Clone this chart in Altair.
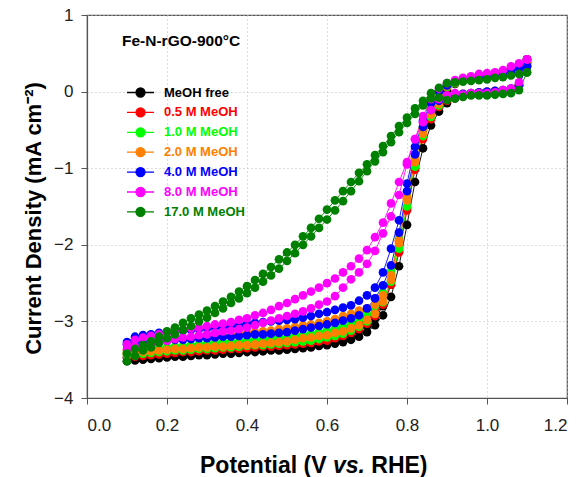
import altair as alt
import pandas as pd

# Potential grid (V vs. RHE), 0.10 ... 1.10 in 0.02 V steps
potential = [round(0.10 + 0.02 * i, 2) for i in range(51)]

series_names = ["MeOH free", "0.5 M MeOH", "1.0 M MeOH", "2.0 M MeOH",
                "4.0 M MeOH", "8.0 M MeOH", "17.0 M MeOH"]
series_colors = ["#000000", "#FF0000", "#00FF00", "#FF8000",
                 "#0000FF", "#FF00FF", "#008000"]

# current density (mA cm-2): "upper" and "lower" branches of each CV loop
free_up = [-3.47,-3.46,-3.45,-3.44,-3.43,-3.42,-3.41,-3.41,-3.40,-3.39,-3.39,-3.38,-3.37,-3.37,-3.36,-3.36,-3.35,-3.34,-3.34,-3.33,-3.32,-3.31,-3.30,-3.29,-3.28,-3.26,-3.24,-3.21,-3.18,-3.13,-3.06,-2.96,-2.80,-2.52,-2.08,-1.52,-1.00,-0.60,-0.30,-0.10,0.02,0.10,0.15,0.18,0.20,0.22,0.24,0.26,0.30,0.35,0.42]
free_lo = [-3.52,-3.51,-3.50,-3.49,-3.48,-3.47,-3.46,-3.46,-3.45,-3.44,-3.44,-3.43,-3.42,-3.42,-3.41,-3.40,-3.40,-3.39,-3.38,-3.38,-3.37,-3.36,-3.35,-3.34,-3.32,-3.31,-3.29,-3.27,-3.24,-3.20,-3.14,-3.05,-2.92,-2.68,-2.28,-1.74,-1.18,-0.74,-0.44,-0.26,-0.15,-0.09,-0.06,-0.04,-0.03,-0.02,-0.01,0.00,0.02,0.08,0.42]

m05_up = [-3.42,-3.40,-3.39,-3.38,-3.37,-3.36,-3.35,-3.34,-3.33,-3.32,-3.31,-3.31,-3.30,-3.29,-3.29,-3.28,-3.27,-3.26,-3.25,-3.24,-3.23,-3.22,-3.21,-3.20,-3.18,-3.16,-3.13,-3.10,-3.06,-3.00,-2.93,-2.83,-2.66,-2.38,-1.95,-1.40,-0.88,-0.50,-0.24,-0.06,0.05,0.11,0.15,0.18,0.20,0.21,0.23,0.25,0.29,0.33,0.38]
m05_lo = [-3.47,-3.46,-3.45,-3.44,-3.43,-3.42,-3.41,-3.40,-3.40,-3.39,-3.38,-3.38,-3.37,-3.36,-3.36,-3.35,-3.34,-3.33,-3.33,-3.32,-3.31,-3.30,-3.29,-3.28,-3.26,-3.25,-3.22,-3.19,-3.15,-3.10,-3.03,-2.93,-2.78,-2.52,-2.10,-1.55,-1.02,-0.62,-0.36,-0.20,-0.12,-0.07,-0.05,-0.03,-0.02,-0.01,0.00,0.01,0.03,0.08,0.38]

m10_up = [-3.40,-3.38,-3.37,-3.36,-3.35,-3.34,-3.33,-3.32,-3.31,-3.30,-3.29,-3.28,-3.27,-3.27,-3.26,-3.25,-3.24,-3.23,-3.22,-3.21,-3.20,-3.19,-3.18,-3.16,-3.14,-3.12,-3.09,-3.06,-3.02,-2.97,-2.90,-2.80,-2.63,-2.35,-1.92,-1.37,-0.85,-0.47,-0.22,-0.05,0.06,0.11,0.15,0.17,0.19,0.21,0.23,0.25,0.28,0.32,0.36]
m10_lo = [-3.44,-3.43,-3.42,-3.41,-3.40,-3.39,-3.38,-3.38,-3.37,-3.36,-3.36,-3.35,-3.34,-3.34,-3.33,-3.32,-3.31,-3.31,-3.30,-3.29,-3.28,-3.27,-3.26,-3.25,-3.23,-3.21,-3.19,-3.16,-3.12,-3.07,-3.00,-2.90,-2.75,-2.48,-2.05,-1.50,-0.98,-0.58,-0.33,-0.18,-0.10,-0.06,-0.04,-0.03,-0.02,-0.01,0.00,0.01,0.03,0.08,0.36]

m20_up = [-3.38,-3.33,-3.30,-3.28,-3.26,-3.25,-3.24,-3.23,-3.22,-3.21,-3.20,-3.19,-3.18,-3.17,-3.16,-3.15,-3.14,-3.13,-3.12,-3.10,-3.09,-3.07,-3.05,-3.04,-3.02,-3.00,-2.97,-2.93,-2.90,-2.86,-2.83,-2.78,-2.66,-2.40,-1.94,-1.38,-0.86,-0.48,-0.22,-0.04,0.07,0.12,0.16,0.18,0.20,0.22,0.24,0.26,0.29,0.33,0.37]
m20_lo = [-3.42,-3.41,-3.40,-3.39,-3.38,-3.37,-3.36,-3.36,-3.35,-3.34,-3.34,-3.33,-3.33,-3.32,-3.31,-3.31,-3.30,-3.29,-3.28,-3.27,-3.26,-3.24,-3.22,-3.21,-3.19,-3.18,-3.15,-3.13,-3.09,-3.05,-2.98,-2.90,-2.74,-2.46,-1.98,-1.42,-0.92,-0.55,-0.30,-0.16,-0.09,-0.05,-0.03,-0.02,-0.01,0.00,0.01,0.02,0.04,0.09,0.37]

m40_up = [-3.27,-3.20,-3.18,-3.17,-3.15,-3.14,-3.13,-3.12,-3.11,-3.10,-3.09,-3.08,-3.07,-3.06,-3.05,-3.03,-3.02,-3.01,-3.00,-2.99,-2.98,-2.97,-2.95,-2.93,-2.90,-2.88,-2.85,-2.82,-2.79,-2.73,-2.66,-2.56,-2.36,-2.05,-1.68,-1.20,-0.72,-0.38,-0.15,0.00,0.08,0.13,0.16,0.18,0.20,0.22,0.23,0.25,0.27,0.30,0.33]
m40_lo = [-3.30,-3.29,-3.28,-3.27,-3.26,-3.25,-3.24,-3.24,-3.23,-3.22,-3.22,-3.21,-3.20,-3.20,-3.19,-3.18,-3.17,-3.17,-3.16,-3.15,-3.14,-3.12,-3.10,-3.08,-3.06,-3.04,-3.02,-2.99,-2.96,-2.92,-2.83,-2.70,-2.53,-2.27,-1.84,-1.30,-0.82,-0.46,-0.24,-0.12,-0.07,-0.04,-0.03,-0.02,-0.01,0.00,0.01,0.02,0.04,0.09,0.33]

m80_up = [-3.30,-3.24,-3.21,-3.19,-3.17,-3.15,-3.13,-3.11,-3.09,-3.08,-3.06,-3.04,-3.03,-3.01,-2.98,-2.96,-2.92,-2.89,-2.85,-2.80,-2.76,-2.71,-2.66,-2.61,-2.56,-2.50,-2.44,-2.36,-2.28,-2.18,-2.07,-1.90,-1.71,-1.46,-1.18,-0.92,-0.62,-0.32,-0.10,0.04,0.11,0.15,0.18,0.20,0.23,0.24,0.25,0.28,0.33,0.37,0.42]
m80_lo = [-3.36,-3.33,-3.31,-3.29,-3.27,-3.25,-3.23,-3.21,-3.20,-3.18,-3.17,-3.15,-3.13,-3.12,-3.10,-3.08,-3.05,-3.02,-2.99,-2.96,-2.93,-2.90,-2.87,-2.83,-2.78,-2.74,-2.67,-2.56,-2.45,-2.36,-2.25,-2.08,-1.85,-1.63,-1.35,-0.95,-0.62,-0.40,-0.24,-0.10,-0.05,-0.02,-0.04,-0.02,-0.02,-0.02,-0.01,0.02,0.04,0.12,0.42]

m170_up = [-3.42,-3.36,-3.31,-3.26,-3.20,-3.13,-3.08,-3.02,-2.96,-2.91,-2.86,-2.80,-2.74,-2.68,-2.61,-2.54,-2.46,-2.38,-2.29,-2.19,-2.10,-2.00,-1.89,-1.78,-1.66,-1.54,-1.42,-1.30,-1.18,-1.06,-0.95,-0.83,-0.71,-0.58,-0.45,-0.34,-0.22,-0.12,-0.02,0.05,0.11,0.12,0.13,0.14,0.15,0.16,0.18,0.19,0.21,0.23,0.25]
m170_lo = [-3.52,-3.45,-3.38,-3.34,-3.28,-3.22,-3.17,-3.11,-3.06,-3.00,-2.95,-2.89,-2.83,-2.76,-2.70,-2.63,-2.56,-2.48,-2.40,-2.31,-2.21,-2.11,-2.00,-1.89,-1.78,-1.67,-1.55,-1.43,-1.30,-1.17,-1.04,-0.91,-0.79,-0.66,-0.53,-0.41,-0.29,-0.18,-0.09,-0.08,-0.11,-0.09,-0.07,-0.05,-0.05,-0.05,-0.04,-0.03,-0.02,0.02,0.25]

branches = [(free_up, free_lo), (m05_up, m05_lo), (m10_up, m10_lo), (m20_up, m20_lo),
            (m40_up, m40_lo), (m80_up, m80_lo), (m170_up, m170_lo)]

# x-axis title pieces (the "vs." is italic)
xtitle_parts = ["Potential (V", "vs.", "RHE)"]

rows = []
for k, (name, (up, lo)) in enumerate(zip(series_names, branches)):
    assert len(up) == 51 and len(lo) == 51, name
    seq = 0
    for xv, yv in zip(potential, up):
        rows.append({"series": name, "k": k, "E": xv, "j": yv, "seq": seq})
        seq += 1
    for xv, yv in zip(reversed(potential), reversed(lo)):
        rows.append({"series": name, "k": k, "E": xv, "j": yv, "seq": seq})
        seq += 1
df = pd.DataFrame(rows)

FONT = "Liberation Sans"
TITLE_SIZE = 22
XTITLE_SIZE = 23

xs = alt.X("E:Q", scale=alt.Scale(domain=[0, 1.2], nice=False, zero=False),
           axis=alt.Axis(values=[0, 0.2, 0.4, 0.6, 0.8, 1.0, 1.2], format=".1f",
                         title=None, labelPadding=13))
ys = alt.Y("j:Q", scale=alt.Scale(domain=[-4, 1], nice=False, zero=False),
           axis=alt.Axis(values=[-4, -3, -2, -1, 0, 1], format="d",
                         title="Current Density (mA cm\u207b\u00b2)", titlePadding=8,
                         titleY=203, labelPadding=8))

legend = alt.Legend(
    title=None, orient="none", legendX=47, legendY=71, padding=0,
    symbolType="M-3,0L3,0M-1,0A1,1,0,1,1,1,0A1,1,0,1,1,-1,0Z",
    symbolSize=81, symbolStrokeWidth=1.3, labelOffset=17,
    labelFont=FONT, labelFontSize=13, labelFontWeight="bold",
    labelColor={"expr": "scale('color', datum.value)"},
    rowPadding=4.9, symbolOpacity=1,
)
color = alt.Color("series:N",
                  scale=alt.Scale(domain=series_names, range=series_colors),
                  sort=series_names, legend=legend)

base = alt.Chart(df)
lines = base.mark_line(strokeWidth=1, opacity=0.9).encode(
    x=xs, y=ys, color=color, detail="series:N", order="seq:Q")
points = base.mark_point(filled=True, size=76, opacity=1).encode(
    x=xs, y=ys, color=color, order="k:Q")

label = alt.Chart(pd.DataFrame({"t": ["Fe-N-rGO-900\u00b0C"]})).mark_text(
    font=FONT, fontSize=15.5, fontWeight="bold", align="left", baseline="middle",
    color="#000000").encode(text="t:N", x=alt.value(35), y=alt.value(26))

# x-axis title built from three text pieces so that "vs." can be italic
em = XTITLE_SIZE
w1 = 5.779 * em          # "Potential (V " incl. trailing space
w2 = 1.39 * em + 0.278 * em   # "vs." + following space
x0 = 113
xt_base = 458
def piece(txt, xpos, style="normal"):
    return alt.Chart(pd.DataFrame({"t": [txt]})).mark_text(
        font=FONT, fontSize=XTITLE_SIZE, fontWeight="bold", fontStyle=style,
        align="left", baseline="alphabetic", color="#000000").encode(
        text="t:N", x=alt.value(xpos), y=alt.value(xt_base))

xt1 = piece(xtitle_parts[0], x0)
xt2 = piece(xtitle_parts[1], x0 + w1, "italic")
xt3 = piece(xtitle_parts[2], x0 + w1 + w2)

chart = alt.layer(lines, points, label, xt1, xt2, xt3).properties(
    width=480, height=383,
    autosize=alt.AutoSizeParams(type="none"),
    padding={"left": 87, "top": 15, "right": 17, "bottom": 79},
).configure_view(stroke="#555555", strokeWidth=1.2).configure_axis(
    labelFont=FONT, labelFontSize=17, labelColor="#222222",
    titleFont=FONT, titleFontSize=TITLE_SIZE, titleFontWeight="bold", titleColor="#000000",
    domainColor="#555555", tickColor="#555555", tickSize=6, domainWidth=1.2,
    gridColor="#BBBBBB", gridDash=[1, 3], gridWidth=1,
)

chart.save("out.html", embed_options={"renderer": "svg", "actions": False})
